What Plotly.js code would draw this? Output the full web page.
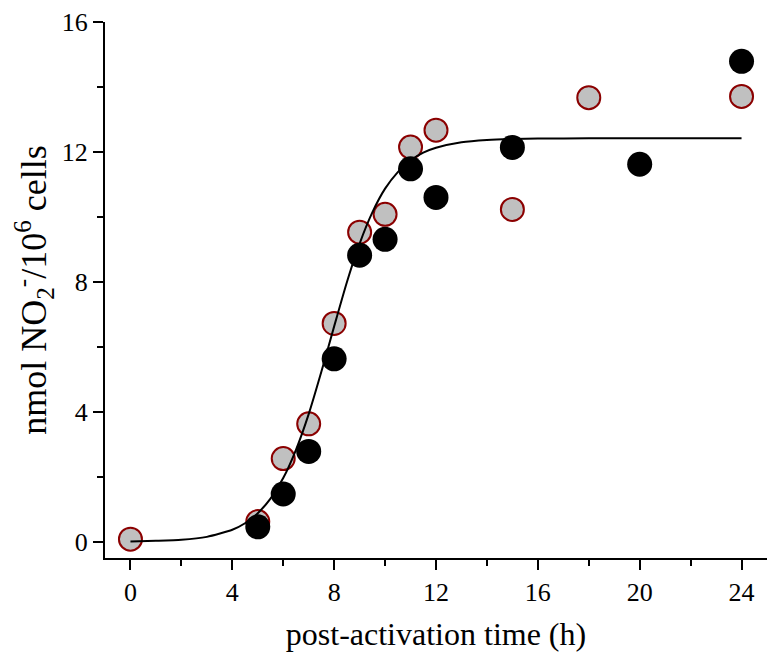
<!DOCTYPE html>
<html>
<head>
<meta charset="utf-8">
<script src="https://cdn.plot.ly/plotly-3.0.1.min.js"></script>
<style>html,body{margin:0;padding:0;background:#fff;}#chart{width:775px;height:664px;}</style>
</head>
<body>
<div id="chart"></div>
<script>
// Open (grey) series
const timeGray = [0, 5, 6, 7, 8, 9, 10, 11, 12, 15, 18, 24];
const no2Gray  = [0.08, 0.62, 2.56, 3.63, 6.72, 9.53, 10.08, 12.15, 12.67, 10.23, 13.67, 13.71];
// Filled (black) series
const timeBlack = [5, 6, 7, 8, 9, 10, 11, 12, 15, 20, 24];
const no2Black  = [0.46, 1.47, 2.78, 5.63, 8.82, 9.31, 11.48, 10.60, 12.14, 11.62, 14.79];
// Fitted curve
const fitTime = [0, 1, 2, 3, 4, 4.5, 5, 5.5, 6, 6.5, 7, 7.5, 8, 8.5, 9, 9.5, 10, 10.5, 11, 11.5, 12, 13, 14, 15, 16, 18, 20, 22, 24];
const fitNO2  = [0.01, 0.03, 0.06, 0.15, 0.37, 0.57, 0.88, 1.33, 1.96, 2.83, 3.93, 5.24, 6.63, 7.99, 9.18, 10.14, 10.87, 11.38, 11.74, 11.98, 12.13, 12.30, 12.37, 12.40, 12.41, 12.42, 12.42, 12.42, 12.42];

const xTickVals = [0, 4, 8, 12, 16, 20, 24];
const yTickVals = [0, 4, 8, 12, 16];

const fontFam = '"Liberation Serif", "Times New Roman", serif';

const traces = [
  {
    x: timeGray, y: no2Gray, type: 'scatter', mode: 'markers',
    marker: {size: 23, color: '#c0c0c0', line: {color: '#8b0000', width: 2}},
    hoverinfo: 'x+y'
  },
  {
    x: timeBlack, y: no2Black, type: 'scatter', mode: 'markers',
    marker: {size: 25, color: '#000000', line: {width: 0}},
    hoverinfo: 'x+y'
  },
  {
    x: fitTime, y: fitNO2, type: 'scatter', mode: 'lines',
    line: {color: '#000000', width: 2, shape: 'spline', smoothing: 0.6},
    hoverinfo: 'skip'
  }
];

const layout = {
  width: 775, height: 664,
  margin: {l: 105, r: 8, t: 22, b: 106},
  paper_bgcolor: '#ffffff', plot_bgcolor: '#ffffff',
  showlegend: false,
  font: {family: fontFam, color: '#000000', size: 26},
  xaxis: {
    range: [-1, 25],
    tickmode: 'array', tickvals: xTickVals, ticktext: xTickVals.map(String),
    ticks: 'outside', ticklen: 10, tickwidth: 2, tickcolor: '#000',
    minor: {tickmode: 'linear', tick0: 0, dtick: 2, ticks: 'outside', ticklen: 6, tickwidth: 2, tickcolor: '#000'},
    showline: true, linecolor: '#000', linewidth: 2,
    showgrid: false, zeroline: false,
    tickfont: {family: fontFam, size: 26, color: '#000'},
    title: {text: 'post-activation time (h)', font: {family: fontFam, size: 32, color: '#000'}, standoff: 16}
  },
  yaxis: {
    range: [-0.5, 16],
    tickmode: 'array', tickvals: yTickVals, ticktext: yTickVals.map(String),
    ticks: 'outside', ticklen: 10, tickwidth: 2, tickcolor: '#000',
    minor: {tickmode: 'linear', tick0: 0, dtick: 2, ticks: 'outside', ticklen: 6, tickwidth: 2, tickcolor: '#000'},
    showline: true, linecolor: '#000', linewidth: 2,
    showgrid: false, zeroline: false,
    tickfont: {family: fontFam, size: 26, color: '#000'},
    title: {text: 'nmol NO<sub>2</sub><sup>-</sup>/10<sup>6</sup> cells', font: {family: fontFam, size: 36, color: '#000'}, standoff: 4}
  }
};

Plotly.newPlot('chart', traces, layout, {displayModeBar: false, staticPlot: true});
</script>
</body>
</html>
